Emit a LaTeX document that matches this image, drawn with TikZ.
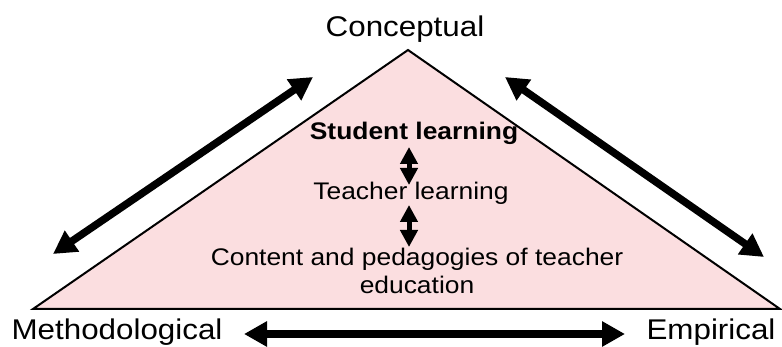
\documentclass[tikz,border=0pt]{standalone}
\usepackage{fontspec}
\setmainfont{Liberation Sans}[FakeStretch=1.1]
\usetikzlibrary{arrows.meta}
\definecolor{tripink}{RGB}{251,222,224}
\tikzset{
	corner/.style={font=\fontsize{28.5}{34}\selectfont, inner sep=0pt, anchor=base},
	level/.style={font=\fontsize{24}{28}\selectfont, inner sep=0pt, align=center},
	bigarrow/.style={line width=7.5pt, {Triangle[length=23pt,width=24pt]}-{Triangle[length=23pt,width=24pt]}},
	smallarrow/.style={line width=5pt, {Triangle[length=17pt,width=17pt]}-{Triangle[length=17pt,width=17pt]}}
}
\begin{document}
\begin{tikzpicture}[x=1pt,y=-1pt]

		\useasboundingbox (0,0) rectangle (782,347);

		\filldraw[fill=tripink, line width=2pt] (33,309) -- (408,50) -- (780,309) -- cycle;

		\node[corner] (concept) at (405,37) {Conceptual};
		\node[corner] (method) at (117,340) {Methodological};
		\node[corner] (empir) at (711,340) {Empirical};

		\node[level, anchor=base] (student) at (414,140) {\bfseries Student learning};
		\node[level, anchor=base] (teacher) at (411,200) {Teacher learning};
		\node[level, anchor=north] (content) at (417,248) {Content and pedagogies of teacher\\education};

		\coordinate (ml) at (53,254);
		\coordinate (cl) at (313,77);
		\coordinate (cr) at (505,77);
		\coordinate (er) at (764,257);
		\coordinate (mb) at (244,334);
		\coordinate (eb) at (625,334);

		\coordinate (s1) at (409,147);
		\coordinate (t1) at (409,185);
		\coordinate (t2) at (409,205);
		\coordinate (c1) at (409,247);

		\foreach \from/\to in {ml/cl,cr/er,mb/eb}
		\draw[bigarrow] (\from) -- (\to);

		\foreach \from/\to in {s1/t1,t2/c1}
		\draw[smallarrow] (\from) -- (\to);

\end{tikzpicture}
\end{document}
